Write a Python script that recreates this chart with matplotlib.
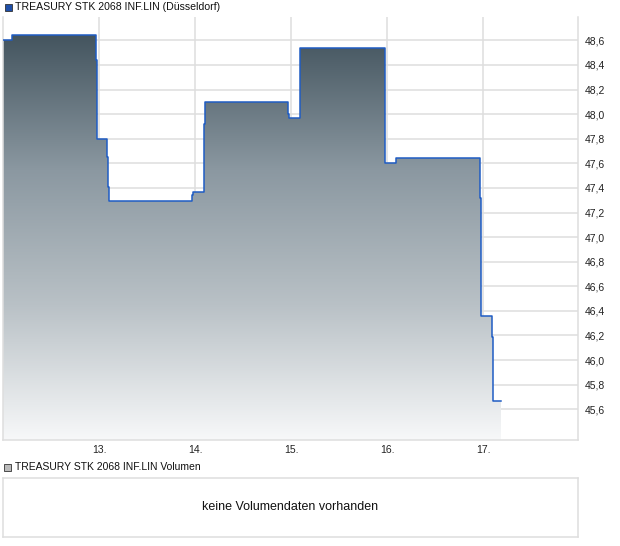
import numpy as np
import matplotlib
matplotlib.use("Agg")
import matplotlib.pyplot as plt
from matplotlib.colors import LinearSegmentedColormap
from matplotlib.patches import Rectangle

plt.rcParams['font.family'] = ['Liberation Sans', 'DejaVu Sans']

# price steps (x in days of the month, value in EUR)
days = [12.0, 12.094, 12.969, 12.979, 12.984, 13.083, 13.094, 13.104,
        13.969, 13.984, 14.089, 14.094, 14.104, 14.969, 14.979, 15.094,
        15.979, 16.094, 16.969, 16.976, 16.984, 17.094, 17.104, 17.109, 17.193]
prices = [48.60, 48.64, 48.44, 48.02, 47.80, 47.65, 47.41, 47.29,
          47.34, 47.37, 47.55, 47.92, 48.10, 48.00, 47.97, 48.54,
          47.60, 47.64, 47.32, 46.68, 46.36, 46.19, 45.85, 45.67, 45.67]
tick_days = [13, 14, 15, 16, 17]
tick_labels = ["13.", "14.", "15.", "16.", "17."]
y_ticks = [45.6, 45.8, 46.0, 46.2, 46.4, 46.6, 46.8, 47.0,
           47.2, 47.4, 47.6, 47.8, 48.0, 48.2, 48.4, 48.6]

title = "TREASURY STK 2068 INF.LIN (Düsseldorf)"
vol_title = "TREASURY STK 2068 INF.LIN Volumen"
vol_text = "keine Volumendaten vorhanden"

W, H = 620, 546
fig = plt.figure(figsize=(W / 100, H / 100), dpi=100)

grid_c = "#dedede"
line_c = "#1f5cc4"
ymin, ymax = 45.35, 48.79

ax = fig.add_axes([3 / W, 1 - 440 / H, 575 / W, 423 / H])
ax.set_xlim(12.0, 17.99)
ax.set_ylim(ymin, ymax)

# gradient fill under the step line
cmap = LinearSegmentedColormap.from_list("fill", ["#f7f8f9", "#b9c1c6", "#8b98a1", "#44555f"])
grad = np.linspace(0, 1, 256).reshape(-1, 1)
img = ax.imshow(grad, cmap=cmap, aspect="auto", origin="lower",
                extent=[12.0, 17.99, ymin, max(prices)], zorder=1)
fill = ax.fill_between(days, prices, ymin, step="post", color="none", lw=0, zorder=1)
img.set_clip_path(fill.get_paths()[0], transform=ax.transData)

ax.step(days, prices, where="post", color=line_c, lw=1.1, zorder=3)

ax.set_xticks(tick_days)
ax.set_xticklabels(tick_labels)
ax.set_yticks(y_ticks)
ax.set_yticklabels([f"{v:.1f}".replace(".", ",") for v in y_ticks])
ax.yaxis.tick_right()
ax.tick_params(length=0, labelsize=7.5, colors="#222222")
ax.tick_params(axis="y", pad=5)
ax.tick_params(axis="x", pad=3.5)
ax.grid(True, color=grid_c, lw=1.1, zorder=0)
ax.set_axisbelow(True)
for s in ["left", "right", "bottom"]:
    ax.spines[s].set_color(grid_c)
    ax.spines[s].set_linewidth(1.1)
ax.spines["top"].set_visible(False)

# legend headers
fig.patches.append(Rectangle((5 / W, 1 - 11 / H), 7 / W, 7 / H, transform=fig.transFigure,
                             facecolor="#1f4fa8", edgecolor="#333333", lw=0.6))
fig.text(15 / W, 1 - 7 / H, title, fontsize=7.6, va="center", ha="left", color="#111111")
fig.patches.append(Rectangle((4 / W, 1 - 471 / H), 7 / W, 7 / H, transform=fig.transFigure,
                             facecolor="#bbbbbb", edgecolor="#333333", lw=0.6))
fig.text(15 / W, 1 - 467 / H, vol_title, fontsize=7.5, va="center", ha="left", color="#111111")

# volume panel
vax = fig.add_axes([3 / W, 1 - 537 / H, 575 / W, 59 / H])
vax.set_xticks([])
vax.set_yticks([])
for s in vax.spines.values():
    s.set_color(grid_c)
    s.set_linewidth(1.1)
vax.text(0.5, 0.5, vol_text, transform=vax.transAxes, ha="center", va="center",
         fontsize=9, color="#111111")

fig.savefig("out.png", dpi=100)
